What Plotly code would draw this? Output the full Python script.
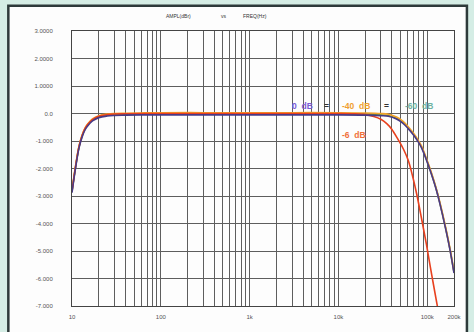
import plotly.graph_objects as go

# ---- data ----
freq = [10, 11, 12, 13, 14, 15, 17, 20, 25, 30, 40, 60, 100, 300, 1000, 3000,
        10000, 20000, 30000, 36500, 45000, 53000, 61000, 70000, 78000, 86000,
        100000, 111000, 125000, 138000, 160000, 180000, 200000]
db_0 = [-2.88, -1.95, -1.25, -0.85, -0.60, -0.45, -0.27, -0.15, -0.09, -0.07,
        -0.06, -0.05, -0.05, -0.05, -0.05, -0.05, -0.05, -0.06, -0.08, -0.10,
        -0.20, -0.35, -0.55, -0.78, -1.00, -1.24, -1.77, -2.19, -2.72, -3.25,
        -4.15, -4.95, -5.80]
db_m40 = [-2.80, -1.88, -1.18, -0.78, -0.53, -0.38, -0.20, -0.08, -0.02, 0.00,
          0.01, 0.02, 0.03, 0.03, 0.03, 0.03, 0.03, 0.02, 0.00, -0.03,
          -0.13, -0.28, -0.48, -0.72, -0.94, -1.18, -1.72, -2.14, -2.68, -3.20,
          -4.10, -4.90, -5.75]
db_m60 = [-2.84, -1.92, -1.22, -0.82, -0.57, -0.42, -0.24, -0.12, -0.06, -0.04,
          -0.03, -0.02, -0.02, -0.02, -0.02, -0.02, -0.02, -0.03, -0.05, -0.07,
          -0.17, -0.32, -0.52, -0.75, -0.97, -1.21, -1.75, -2.17, -2.70, -3.23,
          -4.13, -4.93, -5.78]

freq_m6 = [10, 11, 12, 13, 14, 15, 17, 20, 25, 30, 40, 60, 100, 300, 1000, 3000,
           10000, 15000, 20000, 25000, 30000, 35000, 40000, 47200, 54000, 61000,
           68000, 75700, 86000, 98000, 112000, 129000, 135000]
db_m6 = [-2.82, -1.90, -1.20, -0.80, -0.55, -0.40, -0.22, -0.10, -0.04, -0.02,
         -0.01, 0.00, 0.00, 0.00, 0.00, 0.00, 0.00, -0.01, -0.04, -0.11,
         -0.21, -0.37, -0.58, -0.96, -1.30, -1.70, -2.25, -2.90, -3.80, -4.77,
         -5.85, -6.95, -7.30]

x_tickvals = [10, 100, 1000, 10000, 100000, 200000]
x_ticktext = ["10", "100", "1k", "10k", "100k", "200k"]
x_minor = [m * d for d in (10, 100, 1000, 10000) for m in range(2, 10)]
y_tickvals = [-7, -6, -5, -4, -3, -2, -1, 0, 1, 2, 3]
y_ticktext = ["-7.000", "-6.000", "-5.000", "-4.000", "-3.000", "-2.000",
              "-1.000", "0.0", "1.0000", "2.0000", "3.0000"]

title_parts = ["AMPL(dBr)", "vs", "FREQ(Hz)"]
series_labels = ["0  dB", "=", "-40  dB", "=", "-60  dB", "-6  dB"]

# ---- layout geometry (pixels) ----
W, H = 474, 332
L, R, T, B = 72, 456, 31, 313
pw, ph = R - L, B - T


def px(x):
    return (x - L) / pw


def py(y):
    return (B - y) / ph


fig = go.Figure()
common = dict(mode="lines", line_shape="spline", hoverinfo="skip", showlegend=False)
fig.add_trace(go.Scatter(x=freq, y=db_m60, line=dict(color="#5f8f45", width=1.6), **common))
fig.add_trace(go.Scatter(x=freq, y=db_m40, line=dict(color="#f2a22a", width=1.6), **common))
fig.add_trace(go.Scatter(x=freq_m6, y=db_m6, line=dict(color="#e8401e", width=1.6), **common))
fig.add_trace(go.Scatter(x=freq, y=db_0, line=dict(color="#4a3a86", width=1.6), **common))

font_family = "Liberation Sans, Arial, sans-serif"
grid = "#5e5e5e"

fig.update_layout(
    width=W, height=H,
    margin=dict(l=L, r=W - R, t=T, b=H - B),
    paper_bgcolor="#d5ede5",
    plot_bgcolor="#fdfdfd",
    font=dict(family=font_family, size=6, color="#555"),
    xaxis=dict(
        type="log", range=[1, 5.30103], tickmode="array",
        tickvals=x_tickvals, ticktext=x_ticktext,
        showgrid=True, gridcolor=grid, gridwidth=1,
        minor=dict(tickmode="array", tickvals=x_minor, showgrid=True,
                   gridcolor=grid, gridwidth=1, ticks=""),
        showline=True, linecolor="#444", linewidth=1, mirror=True,
        ticks="", ticklabelstandoff=5, zeroline=False,
        tickfont=dict(size=6, color="#555"),
    ),
    yaxis=dict(
        range=[-7, 3], tickmode="array", tickvals=y_tickvals, ticktext=y_ticktext,
        showgrid=True, gridcolor=grid, gridwidth=1, zeroline=False,
        showline=True, linecolor="#444", linewidth=1, mirror=True,
        ticks="", ticklabelstandoff=17,
        tickfont=dict(size=6, color="#555"),
    ),
)

# outer white panel with dark frame
fig.add_shape(type="rect", xref="paper", yref="paper",
              x0=px(8), x1=px(469), y0=py(345), y1=py(5),
              fillcolor="#fdfdfd", line=dict(color="#2e3a3a", width=2.5),
              layer="below")

# title
for txt, cx in zip(title_parts, [179, 224.5, 256]):
    fig.add_annotation(text=txt, xref="paper", yref="paper", x=px(cx), y=py(16),
                       showarrow=False, font=dict(size=5, color="#333"),
                       xanchor="center", yanchor="middle")

# series labels
lab_pos = [(304, 108, "#7a5ad6"), (328, 108, "#333"), (357, 108, "#f0a030"),
           (388, 108, "#333"), (421, 108, "#6fb3a2"), (355, 138, "#f0703a")]
for txt, (cx, cy, col) in zip(series_labels, lab_pos):
    fig.add_annotation(text="<b>" + txt + "</b>", xref="paper", yref="paper",
                       x=px(cx), y=py(cy),
                       showarrow=False, font=dict(size=8.5, color=col),
                       xanchor="center", yanchor="middle")

fig.write_html("out.html")
